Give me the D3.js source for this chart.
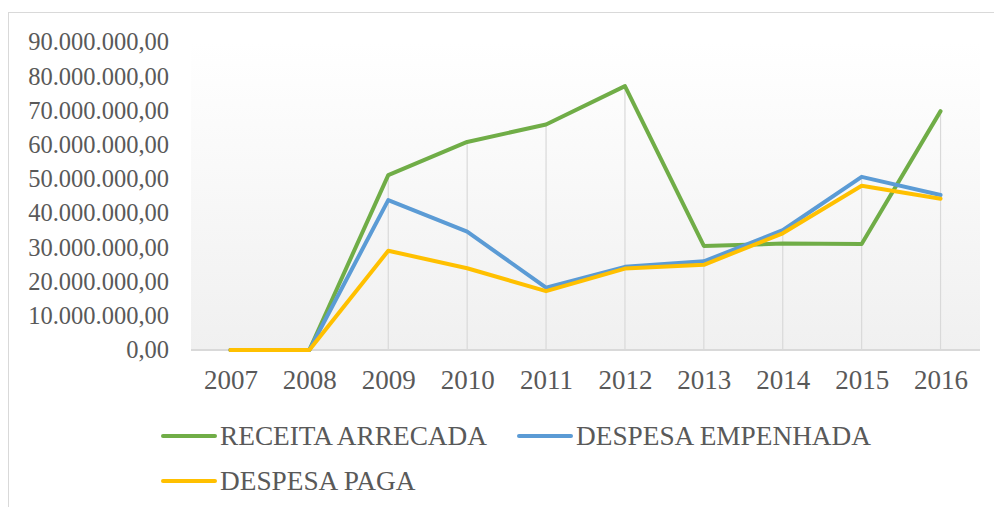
<!DOCTYPE html>
<html>
<head>
<meta charset="utf-8">
<script src="https://cdn.jsdelivr.net/npm/d3@7"></script>
<style>
  body { margin: 0; background: #fff; }
  text { font-family: "Liberation Serif", "Times New Roman", serif; fill: #595959; }
</style>
</head>
<body>
<script>
// categories and series
var years = ["2007", "2008", "2009", "2010", "2011", "2012", "2013", "2014", "2015", "2016"];
var receitaArrecada = [0, 0, 51100000, 60800000, 65900000, 77100000, 30400000, 31100000, 31000000, 69800000];
var despesaEmpenhada = [0, 0, 43800000, 34600000, 18200000, 24300000, 25900000, 35000000, 50600000, 45300000];
var despesaPaga = [0, 0, 29000000, 23900000, 17200000, 23800000, 24900000, 34100000, 48000000, 44200000];
var yTicks = [0, 10000000, 20000000, 30000000, 40000000, 50000000, 60000000, 70000000, 80000000, 90000000];

var series = [
  {name: "RECEITA ARRECADA", values: receitaArrecada, color: "#70ad47"},
  {name: "DESPESA EMPENHADA", values: despesaEmpenhada, color: "#5b9bd5"},
  {name: "DESPESA PAGA", values: despesaPaga, color: "#ffc000"}
];

var W = 994, H = 507;
var plot = {left: 191, right: 980, top: 42, bottom: 350};

var svg = d3.select("body").append("svg")
    .attr("width", W)
    .attr("height", H);

// chart border (runs off the right and bottom)
svg.append("rect")
    .attr("x", 8.5).attr("y", 12.5)
    .attr("width", W).attr("height", H)
    .attr("fill", "#fff")
    .attr("stroke", "#d9d9d9");

// plot area gradient
var grad = svg.append("defs").append("linearGradient")
    .attr("id", "bg").attr("x1", 0).attr("y1", 0).attr("x2", 0).attr("y2", 1);
grad.append("stop").attr("offset", "0%").attr("stop-color", "#ffffff");
grad.append("stop").attr("offset", "100%").attr("stop-color", "#f0f0f0");

svg.append("rect")
    .attr("x", plot.left).attr("y", plot.top)
    .attr("width", plot.right - plot.left)
    .attr("height", plot.bottom - plot.top)
    .attr("fill", "url(#bg)");

var x = d3.scalePoint().domain(years).range([plot.left, plot.right]).padding(0.5);
var y = d3.scaleLinear().domain([0, 90000000]).range([plot.bottom, plot.top]);

var br = d3.formatLocale({decimal: ",", thousands: ".", grouping: [3], currency: ["", ""]});
var fmt = br.format(",.2f");

// drop lines from the highest point of each year
svg.append("g").selectAll("line")
    .data(years)
    .enter().append("line")
    .attr("x1", function(d) { return x(d); })
    .attr("x2", function(d) { return x(d); })
    .attr("y1", function(d, i) { return y(d3.max(series, function(s) { return s.values[i]; })); })
    .attr("y2", plot.bottom)
    .attr("stroke", "#d9d9d9")
    .attr("stroke-width", 1.2);

// y axis
var yAxis = svg.append("g")
    .attr("transform", "translate(" + (plot.left - 22) + ",0)")
    .call(d3.axisLeft(y).tickValues(yTicks).tickSize(0).tickFormat(fmt));
yAxis.select(".domain").remove();
yAxis.selectAll("text")
    .attr("x", 0)
    .style("font-size", "24.5px")
    .style("font-family", "'Liberation Serif', 'Times New Roman', serif")
    .attr("fill", "#595959");

// x axis
var xAxis = svg.append("g")
    .attr("transform", "translate(0," + plot.bottom + ")")
    .call(d3.axisBottom(x).tickSize(0).tickPadding(20));
xAxis.select(".domain")
    .attr("d", "M" + plot.left + ",0H" + plot.right)
    .attr("stroke", "#d9d9d9")
    .attr("stroke-width", 2);
xAxis.selectAll("text")
    .style("font-size", "27px")
    .style("font-family", "'Liberation Serif', 'Times New Roman', serif")
    .attr("fill", "#595959");

// lines
var line = d3.line()
    .x(function(d, i) { return x(years[i]); })
    .y(function(d) { return y(d); });

svg.append("g").selectAll("path")
    .data(series)
    .enter().append("path")
    .attr("d", function(s) { return line(s.values); })
    .attr("fill", "none")
    .attr("stroke", function(s) { return s.color; })
    .attr("stroke-width", 4)
    .attr("stroke-linecap", "round")
    .attr("stroke-linejoin", "round");

// legend
var legendPos = [
  {x: 163, y: 436},
  {x: 519, y: 436},
  {x: 163, y: 481}
];
var legend = svg.append("g").selectAll("g")
    .data(series)
    .enter().append("g")
    .attr("transform", function(d, i) { return "translate(" + legendPos[i].x + "," + legendPos[i].y + ")"; });
legend.append("line")
    .attr("x1", 0).attr("x2", 52)
    .attr("stroke", function(d) { return d.color; })
    .attr("stroke-width", 4)
    .attr("stroke-linecap", "round");
legend.append("text")
    .attr("x", 57)
    .attr("y", 9)
    .style("font-size", "27.3px")
    .text(function(d) { return d.name; });
</script>
</body>
</html>
